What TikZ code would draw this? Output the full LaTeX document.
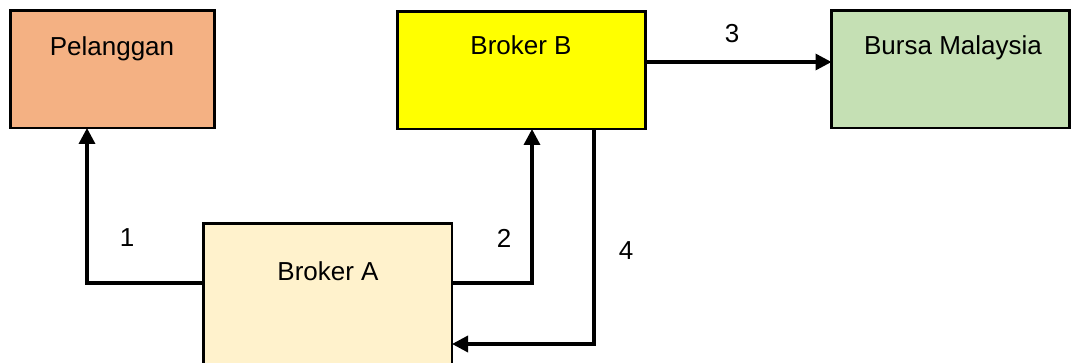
\documentclass[tikz,border=0pt]{standalone}
\usepackage{fontspec}
\setmainfont{Liberation Sans}
\usetikzlibrary{arrows.meta}
\definecolor{cPel}{HTML}{F4B183}
\definecolor{cBB}{HTML}{FFFF00}
\definecolor{cBur}{HTML}{C5E0B4}
\definecolor{cBA}{HTML}{FFF2CC}
\begin{document}
\begin{tikzpicture}[x=1pt,y=-1pt,
  box/.style={draw=black,line width=2.8pt,rectangle,outer sep=0pt,inner sep=0pt,anchor=north west},
  txt/.style={font=\fontsize{26}{30}\selectfont,inner sep=0pt},
  arr/.style={line width=3.4pt,-{Triangle[length=16pt,width=16pt]}}]
\useasboundingbox (0,0) rectangle (1071,363);
\clip (0,0) rectangle (1071,363);
% boxes
\node[box,fill=cPel,minimum width=204pt,minimum height=117.5pt] (p) at (10.5,10.5) {};
\node[box,fill=cBB,minimum width=248pt,minimum height=117.5pt] (b) at (397.5,11.5) {};
\node[box,fill=cBur,minimum width=238pt,minimum height=117.5pt] (m) at (831.5,10.5) {};
\node[box,fill=cBA,minimum width=248.5pt,minimum height=180pt] (a) at (203.5,223.5) {};
% box texts
\node[txt,anchor=base] (tp) at (112,56) {Pelanggan};
\node[txt,anchor=base] (tb) at (521,55) {Broker B};
\node[txt,anchor=base] (tm) at (953,55) {Bursa Malaysia};
\node[txt,anchor=base] (ta) at (328,281) {Broker A};
% connectors
\coordinate (j1) at (87,283);
\coordinate (j2) at (532,283);
\coordinate (j3) at (700,62);
\coordinate (j4) at (594,344);
\draw[arr] (j1 -| a.west) -- (j1) -- (j1 |- p.south);
\draw[arr] (j2 -| a.east) -- (j2) -- (j2 |- b.south);
\draw[arr] (j3 -| b.east) -- (j3 -| m.west);
\draw[arr] (j4 |- b.south) -- (j4) -- (j4 -| a.east);
% connector labels
\node[txt] (l1) at (127,238) {1};
\node[txt] (l2) at (504,238) {2};
\node[txt] (l3) at (732,34) {3};
\node[txt] (l4) at (626,251) {4};
\end{tikzpicture}
\end{document}
